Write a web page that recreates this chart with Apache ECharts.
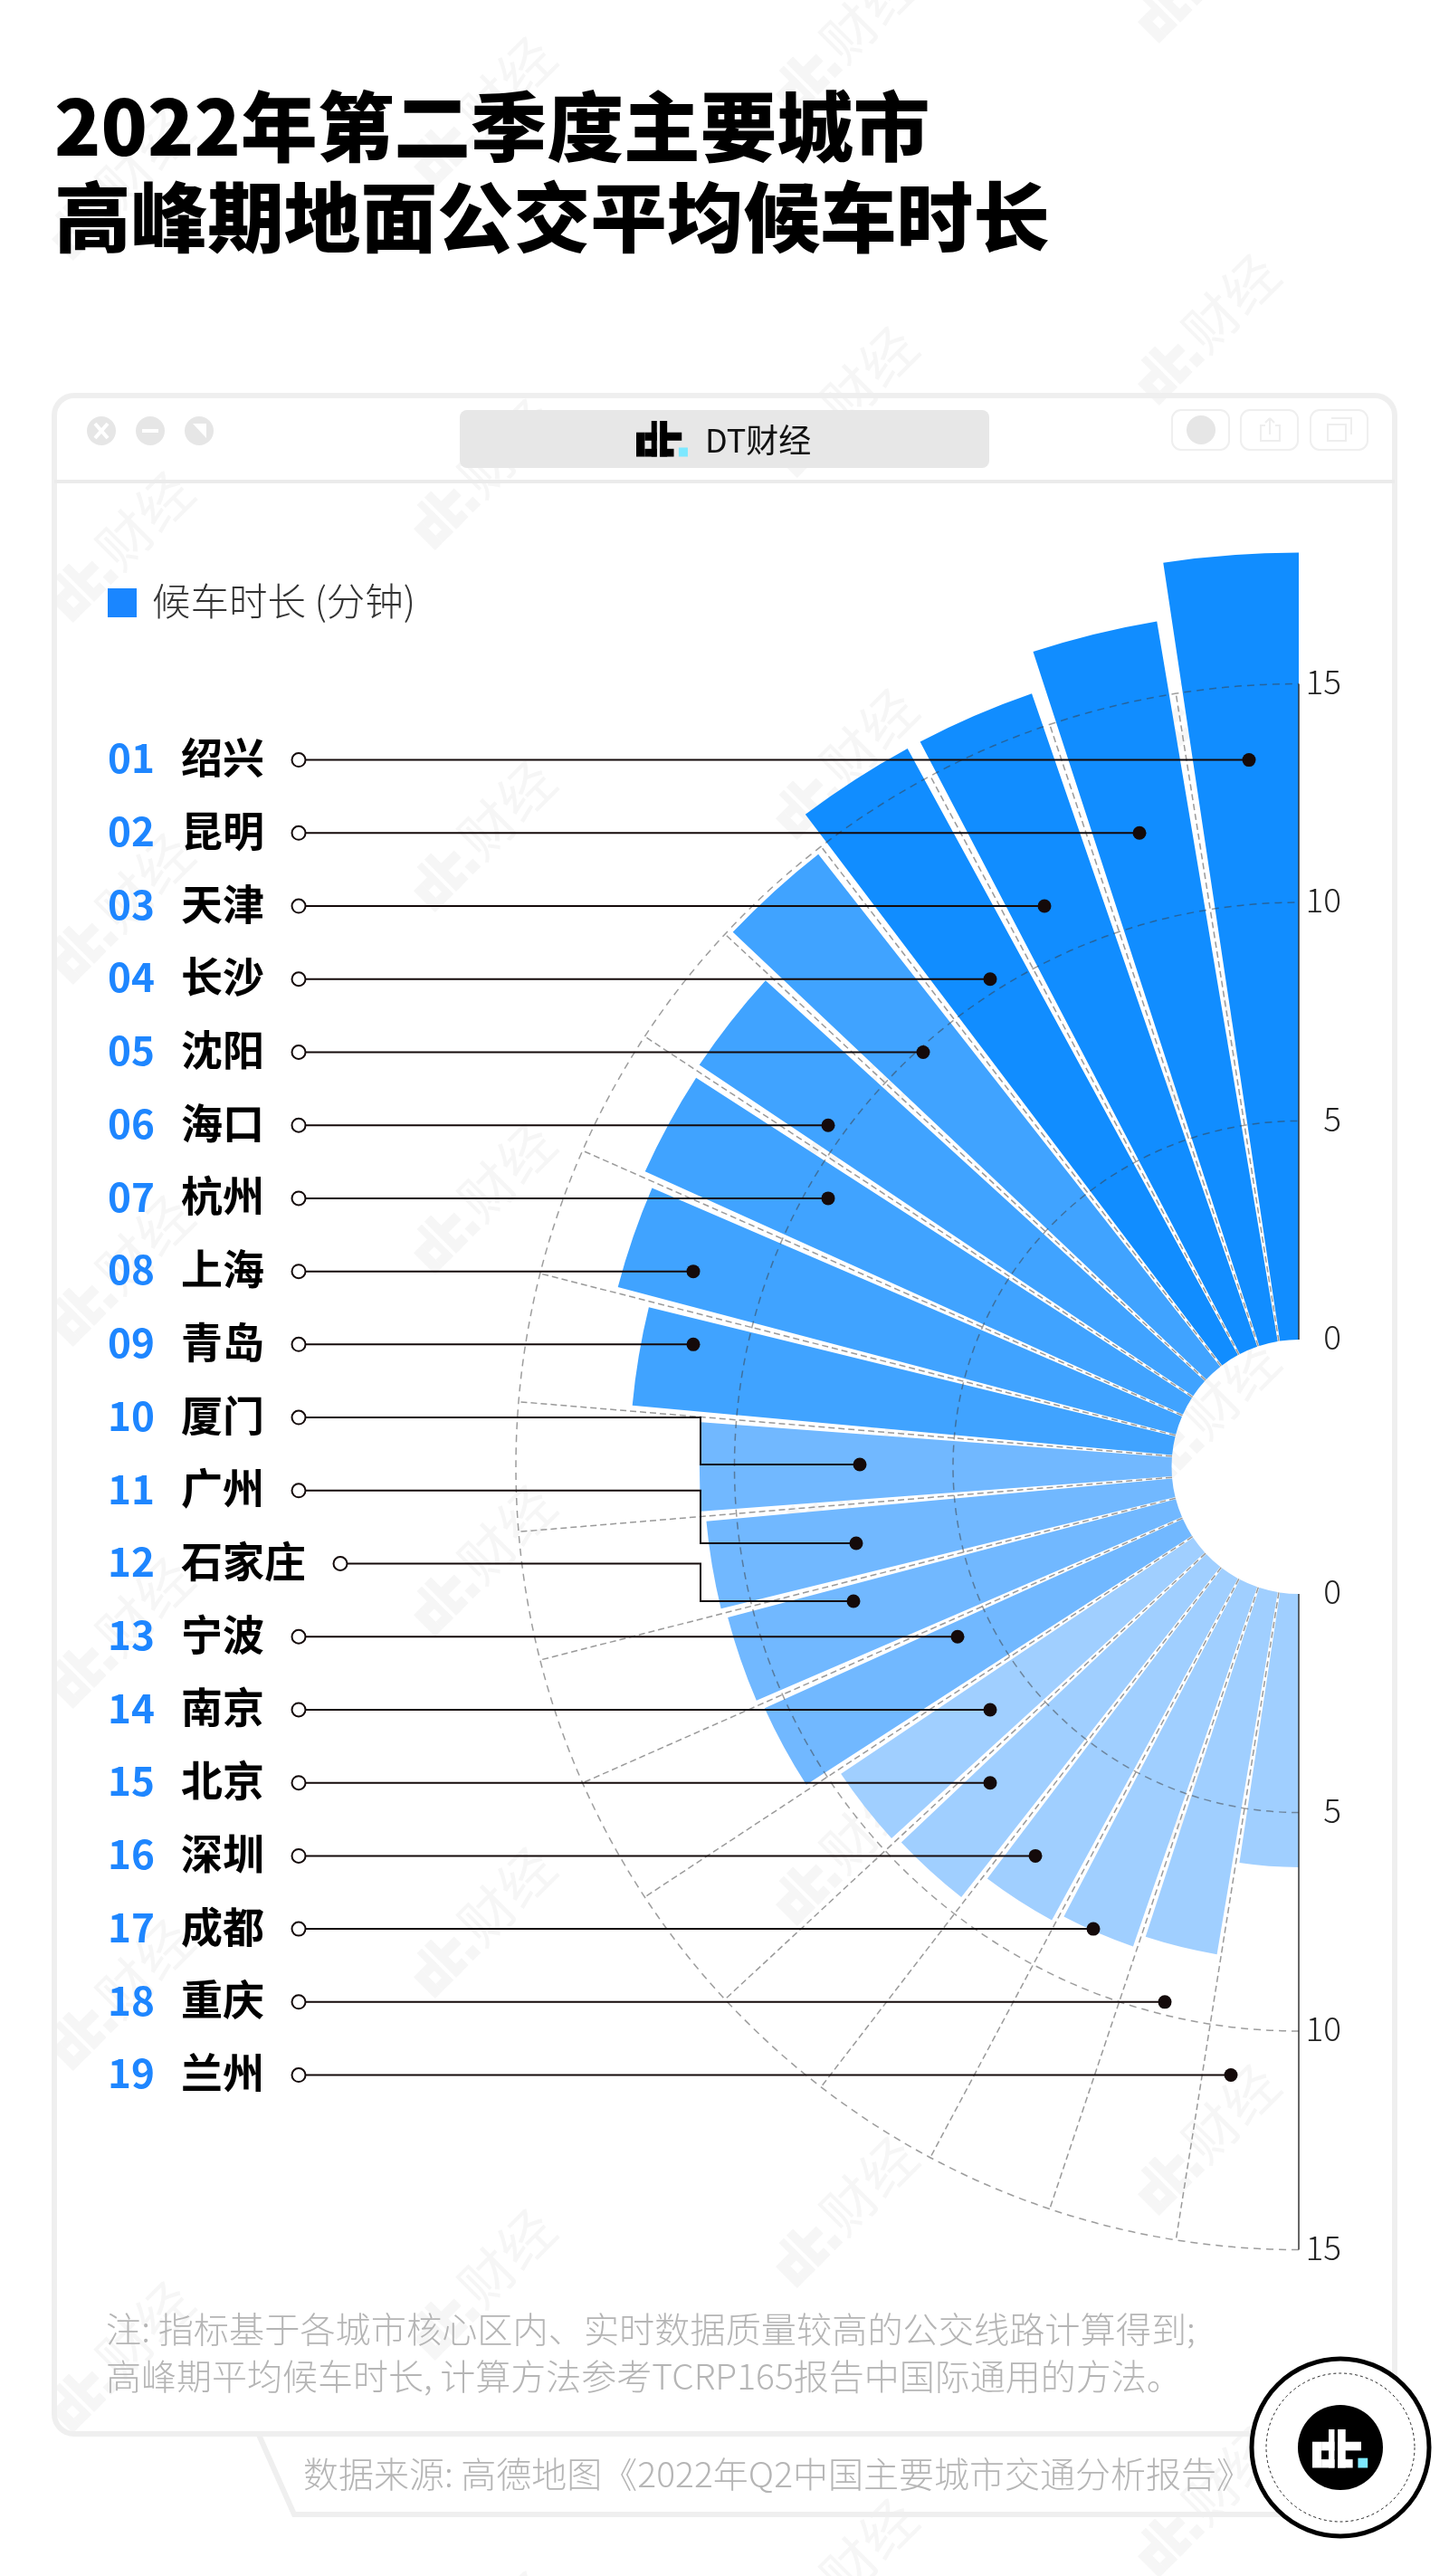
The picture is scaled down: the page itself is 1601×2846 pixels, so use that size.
<!DOCTYPE html>
<html>
<head>
<meta charset="utf-8">
<style>
  html, body { margin: 0; padding: 0; background: #fff; }
  #chart { width: 1601px; height: 2846px; }
</style>
<script src="https://cdn.jsdelivr.net/npm/echarts@6/dist/echarts.min.js"></script>
</head>
<body>
<div id="chart"></div>
<script>
// data
const cities = ['绍兴', '昆明', '天津', '长沙', '沈阳', '海口', '杭州', '上海', '青岛', '厦门',
  '广州', '石家庄', '宁波', '南京', '北京', '深圳', '成都', '重庆', '兰州']
const waitMinutes = [18.0, 16.7, 15.8, 15.8, 14.9, 13.6, 13.5, 13.2, 12.4, 10.8,
  10.7, 10.6, 10.5, 9.7, 9.6, 8.9, 8.7, 8.4, 6.25]
const tickValues = [0, 5, 10, 15]
const spokeIndexes = [1, 2, 3, 4, 5, 6, 7, 8, 9, 10, 11, 12, 13, 14, 15, 16, 17, 18]
const tierEnds = [4, 9, 13, 19]

// layout
const FONT = '"Noto Sans CJK SC"'
const CX = 1435
const CY = 1620.5
const GAP_DEG = 1
const SLOT_DEG = (180 + GAP_DEG) / cities.length
const tierColors = ['#118dff', '#40a3ff', '#71b8ff', '#a0cfff']
const rowY = (i) => 839.6 + 80.72 * i
const dotX = [1380, 1259, 1154, 1094, 1020, 915, 915, 766, 766, 950, 946, 943, 1058, 1094, 1094, 1144, 1208, 1287, 1360]
const elbowDotY = { 9: 1618, 10: 1705, 11: 1769 }
const ELBOW_X = 774
const LINE = '#140a0a'

const rad = (deg) => -Math.PI / 2 - deg * Math.PI / 180
const radiusAt = (api, v) => {
  const p = api.coord([v, 0])
  return Math.hypot(p[0] - CX, p[1] - CY)
}

const txt = (x, y, text, size, fill, weight, align) => ({
  type: 'text',
  x, y,
  silent: true,
  style: { text, fill, font: `${weight} ${size}px ${FONT}`, textAlign: align || 'left', textVerticalAlign: 'middle' }
})
const box = (x, y, width, height, fill) => ({ type: 'rect', silent: true, shape: { x, y, width, height }, style: { fill } })
const seg = (x1, y1, x2, y2, stroke, lineWidth) => ({
  type: 'line', silent: true, shape: { x1, y1, x2, y2 }, style: { stroke, lineWidth }
})

// blocky dt logo, 170 x 118 in its own units
const logoParts = (x, y, s, ink, dot) => {
  const r = (a, b, w, h, c) => box(x + a * s, y + b * s, w * s, h * s, c)
  return [
    r(0, 38, 28, 80, ink), r(28, 38, 40, 27, ink), r(28, 92, 40, 26, ink), r(50, 0, 18, 118, ink),
    r(78, 0, 24, 118, ink), r(78, 38, 72, 27, ink), r(78, 92, 46, 26, ink), r(140, 88, 30, 30, dot)
  ]
}

// watermark tile centres
const tiles = []
for (let c = 0; c < 4; c++) {
  for (let k = -1; k < 8; k++) tiles.push([137 + 400 * c, 197 - 80 * c + 400 * k])
}

const frameColor = '#efefef'
const watermarkColor = '#f6f6f6'
const elements = []

elements.push(txt(60, 140, '2022年第二季度主要城市', 84.6, '#000', 900))
elements.push(txt(60, 240, '高峰期地面公交平均候车时长', 84.6, '#000', 900))

// window frame
elements.push({
  type: 'rect', silent: true, shape: { x: 60, y: 437, width: 1481, height: 2252, r: 22 },
  style: { fill: 'none', stroke: frameColor, lineWidth: 6 }
})
elements.push(seg(60, 532, 1541, 532, '#ebebeb', 4))
elements.push({
  type: 'rect', silent: true, shape: { x: 508, y: 453, width: 585, height: 64, r: 8 }, style: { fill: '#e7e7e7' }
})
elements.push(...logoParts(703, 465, 0.335, '#000', '#7de8ff'))
elements.push(txt(779, 486, 'DT财经', 36, '#111', 400))

// window buttons
;[112, 166, 220].forEach((x) => {
  elements.push({ type: 'circle', silent: true, shape: { cx: x, cy: 476, r: 16 }, style: { fill: '#e6e6e6' } })
})
elements.push(seg(105, 468, 119, 484, '#fff', 4), seg(119, 468, 105, 484, '#fff', 4))
elements.push(seg(157, 476, 175, 476, '#fff', 4))
elements.push({ type: 'polygon', silent: true, shape: { points: [[213, 468], [228, 468], [228, 484]] }, style: { fill: '#fff' } })
;[1295, 1371, 1448].forEach((x) => {
  elements.push({
    type: 'rect', silent: true, shape: { x, y: 453, width: 63, height: 44, r: 10 },
    style: { fill: 'none', stroke: frameColor, lineWidth: 2 }
  })
})
elements.push({ type: 'circle', silent: true, shape: { cx: 1327, cy: 475, r: 16 }, style: { fill: '#e6e6e6' } })
elements.push({
  type: 'polyline', silent: true, shape: { points: [[1398, 470], [1393, 470], [1393, 487], [1414, 487], [1414, 470], [1409, 470]] },
  style: { fill: 'none', stroke: '#eee', lineWidth: 2 }
})
elements.push(seg(1403, 462, 1403, 480, '#eee', 2), seg(1398, 467, 1403, 462, '#eee', 2), seg(1408, 467, 1403, 462, '#eee', 2))
elements.push({
  type: 'polyline', silent: true, shape: { points: [[1471, 462], [1493, 462], [1493, 480]] },
  style: { fill: 'none', stroke: '#eee', lineWidth: 2 }
})
elements.push({
  type: 'rect', silent: true, shape: { x: 1467, y: 469, width: 20, height: 18 },
  style: { fill: 'none', stroke: '#eee', lineWidth: 2 }
})

// legend
elements.push(box(119, 650, 32, 32, '#1a86ff'))
elements.push(txt(168, 664, '候车时长 (分钟)', 42.5, '#333', 300))

// city rows and leader lines
cities.forEach((name, i) => {
  const y = rowY(i)
  const startX = name.length === 3 ? 376 : 330
  elements.push(txt(119, y - 2, String(i + 1).padStart(2, '0'), 44, '#1e86ff', 700))
  elements.push(txt(200, y - 3, name, 46, '#000', 700))

  const endY = elbowDotY[i] || y
  const pts = endY === y
    ? [[startX, y], [dotX[i], y]]
    : [[startX, y], [ELBOW_X, y], [ELBOW_X, endY], [dotX[i], endY]]
  elements.push({ type: 'polyline', silent: true, shape: { points: pts }, style: { fill: 'none', stroke: LINE, lineWidth: 2 } })
  elements.push({ type: 'circle', silent: true, shape: { cx: startX, cy: y, r: 7.5 }, style: { fill: '#fff', stroke: LINE, lineWidth: 2 } })
  elements.push({ type: 'circle', silent: true, shape: { cx: dotX[i], cy: endY, r: 7.5 }, style: { fill: LINE } })
})

// notes
elements.push(txt(117, 2573, '注: 指标基于各城市核心区内、实时数据质量较高的公交线路计算得到;', 39.2, '#b5b5b5', 300))
elements.push(txt(117, 2625, '高峰期平均候车时长, 计算方法参考TCRP165报告中国际通用的方法。', 39, '#b5b5b5', 300))

// source tab
elements.push({
  type: 'polyline', silent: true, shape: { points: [[286, 2690], [325, 2778], [1430, 2778]] },
  style: { fill: 'none', stroke: frameColor, lineWidth: 6 }
})
elements.push(txt(335, 2733, '数据来源: 高德地图《2022年Q2中国主要城市交通分析报告》', 39, '#b5b5b5', 300))

// round badge
elements.push({ type: 'circle', silent: true, shape: { cx: 1481, cy: 2704, r: 98 }, style: { fill: '#fff', stroke: '#000', lineWidth: 5 } })
elements.push({ type: 'circle', silent: true, shape: { cx: 1481, cy: 2704, r: 82 }, style: { fill: 'none', stroke: '#222', lineWidth: 1, lineDash: [3, 3] } })
elements.push({ type: 'circle', silent: true, shape: { cx: 1481, cy: 2704, r: 47 }, style: { fill: '#000' } })
elements.push(...logoParts(1450, 2684, 0.36, '#fff', '#7de8ff'))

const chart = echarts.init(document.getElementById('chart'), null, { renderer: 'canvas' })

chart.setOption({
  animation: false,
  backgroundColor: '#fff',
  polar: { center: [CX, CY], radius: [140.5, 1106.5] },
  angleAxis: { type: 'value', min: 0, max: 360, startAngle: 90, clockwise: false, show: false },
  radiusAxis: { type: 'value', min: 0, max: 20, show: false },
  graphic: { elements: elements.map((el) => ({ ...el, z: 100 })) },
  series: [
    {
      // 水印
      type: 'custom',
      coordinateSystem: 'none',
      silent: true,
      z: 0,
      data: tiles,
      renderItem: (params, api) => ({
        type: 'group',
        x: api.value(0),
        y: api.value(1),
        rotation: Math.PI / 4,
        children: [
          ...logoParts(-104, -25, 0.42, watermarkColor, watermarkColor),
          { type: 'text', style: { x: -28, y: 0, text: '财经', fill: watermarkColor, font: `400 60px ${FONT}`, textVerticalAlign: 'middle' } }
        ]
      })
    },
    {
      // bars
      type: 'custom',
      coordinateSystem: 'polar',
      silent: true,
      z: 3,
      data: waitMinutes.map((v, i) => [v, i]),
      renderItem: (params, api) => {
        const v = api.value(0)
        const i = api.value(1)
        const from = i * SLOT_DEG
        return {
          type: 'sector',
          shape: {
            cx: CX, cy: CY,
            r0: radiusAt(api, 0),
            r: radiusAt(api, v),
            startAngle: rad(from + SLOT_DEG - GAP_DEG),
            endAngle: rad(from),
            clockwise: true
          },
          style: { fill: tierColors[tierEnds.findIndex((end) => i < end)] }
        }
      }
    },
    {
      // spokes between the bars
      type: 'custom',
      coordinateSystem: 'polar',
      silent: true,
      z: 4,
      data: spokeIndexes.map((k) => [15, k]),
      renderItem: (params, api) => {
        const deg = api.value(1) * SLOT_DEG - GAP_DEG / 2
        const a = api.coord([0, deg])
        const b = api.coord([api.value(0), deg])
        return {
          type: 'line',
          shape: { x1: a[0], y1: a[1], x2: b[0], y2: b[1] },
          style: { stroke: '#9a9a9a', lineWidth: 1.5, lineDash: [7, 4] }
        }
      }
    },
    {
      // arcs, axis lines and tick labels
      type: 'custom',
      coordinateSystem: 'polar',
      silent: true,
      z: 5,
      data: tickValues.map((v) => [v, 0]),
      renderItem: (params, api) => {
        const v = api.value(0)
        const top = api.coord([v, 0])
        const bottom = api.coord([v, 180])
        const label = (p) => ({
          type: 'text',
          style: {
            x: CX + 47, y: p[1] - 3, text: String(v), fill: '#222',
            font: `300 37px ${FONT}`, textAlign: 'right', textVerticalAlign: 'middle'
          }
        })
        const children = [label(top), label(bottom)]
        if (v > 0) {
          children.push({
            type: 'arc',
            shape: { cx: CX, cy: CY, r: radiusAt(api, v), startAngle: rad(180), endAngle: rad(0), clockwise: true },
            style: { fill: null, stroke: 'rgba(60,60,60,0.5)', lineWidth: 1.5, lineDash: [8, 6] }
          })
        }
        if (v === tickValues[tickValues.length - 1]) {
          const t0 = api.coord([0, 0])
          const b0 = api.coord([0, 180])
          children.push(
            { type: 'line', shape: { x1: CX, y1: t0[1], x2: CX, y2: top[1] }, style: { stroke: '#333', lineWidth: 1.5 } },
            { type: 'line', shape: { x1: CX, y1: b0[1], x2: CX, y2: bottom[1] }, style: { stroke: '#333', lineWidth: 1.5 } }
          )
        }
        return { type: 'group', children }
      }
    }
  ]
})
</script>
</body>
</html>
